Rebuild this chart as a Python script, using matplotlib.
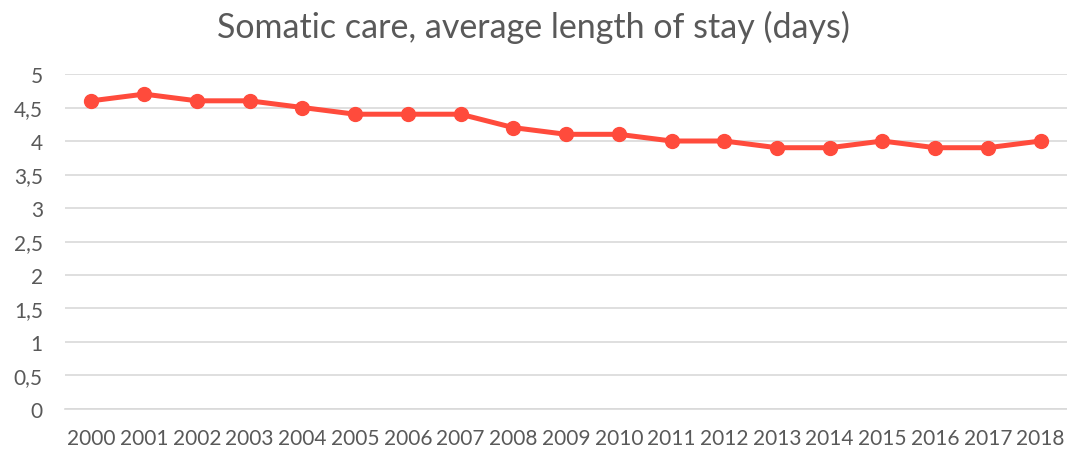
import matplotlib
matplotlib.use("Agg")
import matplotlib.pyplot as plt
from matplotlib.ticker import FuncFormatter

years = [str(y) for y in range(2000, 2019)]
avg_stay = [4.6, 4.7, 4.6, 4.6, 4.5, 4.4, 4.4, 4.4, 4.2, 4.1,
            4.1, 4.0, 4.0, 3.9, 3.9, 4.0, 3.9, 3.9, 4.0]
y_ticks = [0, 0.5, 1, 1.5, 2, 2.5, 3, 3.5, 4, 4.5, 5]

plt.rcParams["font.family"] = ["Lato", "DejaVu Sans"]
text_color = "#595959"
line_color = "#FF4B3C"

fig = plt.figure(figsize=(10.67, 4.56), dpi=100)
ax = fig.add_axes([0.061, 0.1009, 0.939, 0.7346])

x = list(range(len(years)))
ax.plot(x, avg_stay, color=line_color, linewidth=3.6, marker="o",
        markersize=10, solid_joinstyle="round", zorder=3)

ax.set_xlim(-0.5, len(years) - 0.5)
ax.set_ylim(0, 5)
ax.set_xticks(x)
ax.set_xticklabels(years)
ax.set_yticks(y_ticks)
ax.yaxis.set_major_formatter(FuncFormatter(lambda v, p: f"{v:g}".replace(".", ",")))
ax.tick_params(axis="both", length=0, labelsize=15, labelcolor=text_color)
ax.tick_params(axis="x", pad=14)
ax.tick_params(axis="y", pad=16)

ax.grid(axis="y", color="#D9D9D9", linewidth=1.2)
ax.set_axisbelow(True)
for side in ["top", "right", "left"]:
    ax.spines[side].set_visible(False)
ax.spines["bottom"].set_color("#D9D9D9")
ax.spines["bottom"].set_linewidth(1.2)

fig.text(0.5, 0.939, "Somatic care, average length of stay (days)",
         ha="center", va="center", fontsize=24.5, color=text_color)

fig.savefig("out.png", dpi=100)
